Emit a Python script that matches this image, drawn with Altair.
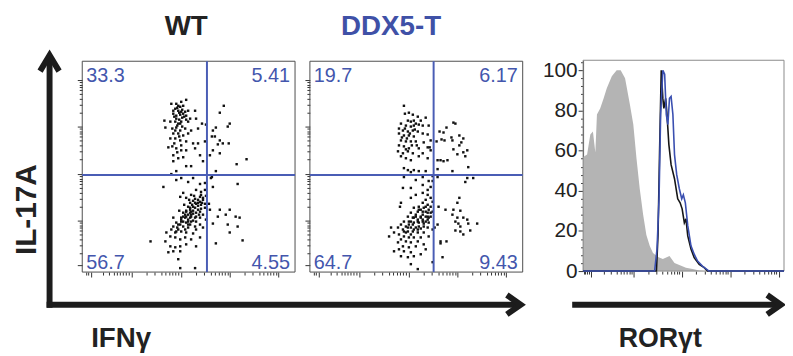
import altair as alt
import pandas as pd

# ---------------- data (panel units: x 0-215, y 0-213) ----------------
wt_ul = [(90,170),(95,170),(100,172),(105,174),(102,168),(99,167),(94,165),(97,163),(100,162),(104,162),
         (107,163),(114,163),(92,160),(95,158),(99,159),(102,160),(105,158),(95,155),(98,154),(101,156),
         (105,154),(109,155),(115,155),(83,153),(89,152),(94,152),(97,150),(100,152),(107,152),(121,150),
         (125,149),(84,146),(91,145),(95,146),(99,143),(104,145),(110,143),(117,145),(92,140),(97,140),
         (102,138),(107,140),(89,135),(94,135),(99,133),(105,132),(112,130),(117,130),(124,132),(87,126),
         (91,127),(95,125),(100,123),(105,123),(114,125),(119,118),(92,118),(97,115),(102,116),(110,107),
         (105,107),(95,102),(92,112),(122,112),(90,99),(96,166),(98,161),(93,157),(101,164),(97,168),
         (103,157),(92,163),(99,150),(96,148),(94,143),(101,147),(98,137),(93,130),(100,128),(96,121)]
wt_ur = [(143,168),(139,161),(149,150),(147,147),(135,146),(132,143),(131,137),(134,137),(139,133),
         (142,130),(137,129),(148,130),(132,123),(129,118),(139,120),(156,109),(166,114),(135,102)]
wt_ll = [(95,93),(100,95),(107,91),(112,95),(119,89),(124,90),(82,86),(115,83),(120,81),(124,83),
         (102,80),(99,76),(105,75),(110,78),(114,74),(119,76),(122,73),(125,77),(117,70),(120,68),
         (124,69),(111,68),(107,66),(114,65),(117,63),(120,64),(110,61),(105,62),(102,60),(107,58),
         (112,59),(115,60),(119,61),(104,55),(109,55),(114,55),(100,51),(105,50),(110,51),(115,51),
         (122,58),(92,55),(97,48),(102,46),(107,45),(114,46),(119,48),(90,43),(95,41),(100,41),
         (105,40),(112,39),(122,45),(85,40),(89,36),(94,35),(99,33),(104,35),(110,33),(119,35),
         (84,31),(89,26),(94,25),(99,26),(105,28),(115,26),(87,20),(92,21),(99,21),(97,13),
         (99,4),(114,4),(69,31),(125,53),(109,65),(112,66),(115,69),(119,71),(122,75),(105,61),
         (109,60),(112,62),(102,56),(105,56),(110,56),(107,53),(99,48),(102,51),(104,43),(109,48),
         (97,43),(115,56),(119,55),(114,70),(109,70),(117,73),(120,78),(107,51),(100,55),(95,50),
         (92,46),(94,40),(115,43),(124,65),(112,72),(117,67),(109,63),(104,58),(100,53),(96,45),
         (107,48),(112,52),(118,58),(121,70),(113,77),(108,73),(103,68),(98,62),(110,58)]
wt_lr = [(132,86),(157,89),(130,95),(128,69),(129,63),(139,63),(149,63),(137,56),(145,58),(155,56),
         (159,55),(132,49),(147,48),(157,46),(149,40),(162,32),(135,29),(131,96)]

ddx_ul = [(95,168),(96,160),(100,161),(104,159),(109,157),(112,153),(117,156),(99,153),(102,152),(105,153),
          (107,150),(110,149),(92,150),(97,148),(102,147),(105,148),(114,148),(120,148),(90,145),(94,143),
          (99,142),(104,143),(109,142),(114,140),(90,140),(95,138),(100,138),(105,137),(119,139),(92,133),
          (97,132),(102,132),(107,132),(115,131),(122,133),(90,128),(95,127),(100,125),(110,125),(119,126),
          (122,123),(89,122),(94,120),(99,122),(104,120),(114,120),(92,117),(97,115),(102,113),(110,117),
          (119,115),(95,105),(99,103),(102,101),(105,103),(110,102),(117,102),(121,126),(96,145),(101,140),
          (98,135),(93,136),(106,144),(103,128),(97,124),(108,128)]
ddx_ur = [(147,150),(145,151),(138,146),(131,142),(135,141),(143,136),(151,138),(155,135),(133,134),
          (136,133),(128,132),(144,133),(153,131),(151,128),(145,124),(159,123),(155,121),(149,119),
          (157,117),(132,113),(135,112),(129,113),(139,113),(144,102),(160,106),(129,104)]
ddx_ll = [(95,96),(114,96),(124,97),(107,93),(120,92),(124,92),(94,85),(102,85),(114,88),(119,83),
          (122,86),(119,78),(122,75),(124,71),(117,73),(114,70),(119,68),(122,66),(110,66),(115,65),
          (120,63),(105,65),(109,61),(114,61),(119,60),(124,61),(102,60),(107,58),(112,56),(117,56),
          (122,56),(99,56),(104,55),(109,53),(114,53),(119,53),(95,51),(100,51),(105,50),(110,50),
          (115,49),(120,50),(92,48),(97,46),(102,45),(107,45),(112,44),(119,45),(89,45),(94,43),
          (99,41),(104,41),(109,40),(115,40),(124,43),(85,40),(90,38),(95,36),(100,35),(105,35),
          (112,35),(120,36),(82,45),(92,33),(97,31),(102,30),(109,31),(89,30),(94,26),(100,25),
          (107,26),(115,28),(90,23),(95,21),(102,20),(85,21),(92,16),(99,15),(105,16),(112,18),
          (117,23),(102,8),(109,3),(124,10),(80,36),(92,70),(91,66),(102,75),(107,78),(114,80),
          (110,63),(114,58),(117,61),(105,55),(109,51),(102,51),(99,45),(105,43),(110,46),(114,51),
          (117,51),(100,48),(95,41),(104,48),(112,55),(107,56),(119,56),(97,40),(102,38),(109,43),
          (115,46),(120,55),(122,60),(117,66),(112,63)]
ddx_lr = [(129,96),(159,95),(165,95),(157,91),(134,15),(130,66),(129,48),(132,31),(138,31),(132,29),
          (126,45),(151,75),(149,70),(145,63),(152,62),(144,58),(149,55),(155,55),(159,53),(147,51),
          (150,49),(152,46),(160,49),(169,49),(147,42),(152,41),(162,42),(155,38),(137,63)]

wt_quad = ["33.3", "5.41", "56.7", "4.55"]     # UL, UR, LL, LR
ddx_quad = ["19.7", "6.17", "64.7", "9.43"]
wt_gate = [126, 98]
ddx_gate = [125, 98]

# RORgt histogram (x: channel 0-1000, y: % of max)
iso_x = [0,3,20,36,49,61,69,85,102,118,143,167,187,209,233,250,266,282,299,315,332,348,373,397,430,455,479,512,545,578,611]
iso_y = [57,57,58,68,69.5,59,78,81,86,91,97,100,100,96,83,73,56,41,28,18,12.5,9,7,6,7.5,4,3,1.7,1,0.3,0]
wt_hx = [0,356,365,373,381,389,397,402,411,417,427,438,455,471,483,493,504,512,521,537,553,578,603,619,1000]
wt_hy = [0,0,0,18,61,100,86,81,86,79,63,53,46,36,34,31,24,26,17.5,11,6.7,3.3,1.7,0,0]
ddx_hx = [0,356,368,378,386,397,406,414,422,430,438,447,455,466,479,491,499,509,521,537,553,570,594,627,1000]
ddx_hy = [0,0,11,36,78,100,98,78,73,86,87,78,58,48,41,36,38,34,22.6,12.6,8.4,5,2.5,0,0]

hist_y_ticks = [0, 20, 40, 60, 80, 100]
hist_y_minor = [4, 8, 12, 16, 24, 28, 32, 36, 44, 48, 52, 56, 64, 68, 72, 76, 84, 88, 92, 96, 104]
hist_x_major = [38, 250, 491, 732, 973]
hist_x_minor = [5, 12, 20, 28, 102, 139, 166, 186, 203, 217, 230, 240, 323, 365, 395, 418, 438, 454, 468, 480,
                564, 606, 636, 659, 679, 695, 709, 721, 805, 847, 877, 900, 920, 936, 950, 962]
sc_x_major = [9, 50, 100, 149, 198]
sc_x_minor = [4, 6, 21, 27, 32, 35, 38, 41, 44, 47, 65, 73, 80, 84, 88, 91, 94, 97, 115, 123, 130, 134, 138, 141,
              144, 147, 164, 172, 179, 183, 187, 190, 193, 196]
sc_y_major = [7, 52, 99, 147, 194]
sc_y_minor = [161, 169, 175, 180, 184, 187, 189, 192, 114, 122, 128, 133, 137, 140, 142, 145, 66, 74, 80, 85,
              89, 92, 94, 97, 19, 27, 33, 38, 42, 45, 47, 50]

# ---------------- style / layout ----------------
FONT = "Liberation Sans"
BLUE_TXT = "#4356ad"
TITLE_BLUE = "#3f51a7"
GATE = "#4a5db5"
INK = "#222222"
TICK = "#333333"
W, H = 793, 356
SC_DX, SC_DY = [0, 215], [0, 213]
SC_RY = [273, 60]
HX_DOM, HY_DOM = [0, 1000], [0, 105]
HX_R, HY_R = [589, 792], [272, 59]


def sc(dom, rng):
    return alt.Scale(domain=dom, range=rng, nice=False, zero=False)


def tick_axis(orient, values, size, offset):
    return alt.Axis(orient=orient, values=values, offset=offset, labels=False, domain=False, grid=False,
                    ticks=True, tickSize=size, tickColor=TICK, tickWidth=1, title=None)


one = pd.DataFrame({"k": [0]})


def scatter_panel(points, quad, gate, xr):
    xs, ys = sc(SC_DX, xr), sc(SC_DY, SC_RY)
    loff, boff = -xr[0], SC_RY[0] - H
    out = []
    g = pd.DataFrame({"gx": [gate[0]], "gy": [gate[1]], "x0": [SC_DX[0]], "x1": [SC_DX[1]],
                      "y0": [SC_DY[0]], "y1": [SC_DY[1]]})
    out.append(alt.Chart(g).mark_rect(fillOpacity=0, stroke="#4d4d4d", strokeWidth=1).encode(
        x=alt.X("x0:Q", scale=xs, axis=tick_axis("bottom", sc_x_major, 5, boff)), x2="x1",
        y=alt.Y("y0:Q", scale=ys, axis=tick_axis("left", sc_y_major, 5, loff)), y2="y1"))
    df = pd.DataFrame(points, columns=["x", "y"])
    out.append(alt.Chart(df).mark_square(size=6, color="#111111", opacity=1).encode(
        x=alt.X("x:Q", scale=xs, axis=None), y=alt.Y("y:Q", scale=ys, axis=None)))
    out.append(alt.Chart(g).mark_rule(color=GATE, strokeWidth=2).encode(
        x=alt.X("gx:Q", scale=xs, axis=tick_axis("bottom", sc_x_minor, 3, boff)),
        y=alt.Y("y0:Q", scale=ys, axis=tick_axis("left", sc_y_minor, 3, loff)), y2="y1"))
    out.append(alt.Chart(g).mark_rule(color=GATE, strokeWidth=2).encode(
        y=alt.Y("gy:Q", scale=ys, axis=None), x=alt.X("x0:Q", scale=xs, axis=None), x2="x1"))
    corners = [(quad[0], SC_DX[0], SC_DY[1], "left", 4, 21),
               (quad[1], SC_DX[1], SC_DY[1], "right", -5, 21),
               (quad[2], SC_DX[0], SC_DY[0], "left", 4, -3),
               (quad[3], SC_DX[1], SC_DY[0], "right", -5, -3)]
    for t, cx, cy, al, dx, dy in corners:
        out.append(alt.Chart(pd.DataFrame({"t": [t], "cx": [cx], "cy": [cy]})).mark_text(
            align=al, baseline="alphabetic", dx=dx, dy=dy, font=FONT, fontSize=20, color=BLUE_TXT).encode(
            x=alt.X("cx:Q", scale=xs, axis=None), y=alt.Y("cy:Q", scale=ys, axis=None), text="t:N"))
    return out


layers = []
layers += scatter_panel(wt_ul + wt_ur + wt_ll + wt_lr, wt_quad, wt_gate, [83, 298])
layers += scatter_panel(ddx_ul + ddx_ur + ddx_ll + ddx_lr, ddx_quad, ddx_gate, [313, 528])

# histogram
hx, hy = sc(HX_DOM, HX_R), sc(HY_DOM, HY_R)
hb = HY_R[0] - H
iso = pd.DataFrame({"x": iso_x, "y": iso_y, "base": [0] * len(iso_x)})
layers.append(alt.Chart(iso).mark_area(color="#b4b4b4", opacity=1).encode(
    x=alt.X("x:Q", scale=hx, axis=tick_axis("bottom", hist_x_minor, 3, hb)),
    y=alt.Y("y:Q", scale=hy, axis=tick_axis("left", hist_y_minor, 2.5, -HX_R[0])), y2="base"))
hframe = pd.DataFrame({"x0": [HX_DOM[0]], "x1": [HX_DOM[1]], "y0": [HY_DOM[0]], "y1": [HY_DOM[1]]})
layers.append(alt.Chart(hframe).mark_rect(fillOpacity=0, stroke="#8a8a8a", strokeWidth=1).encode(
    x=alt.X("x0:Q", scale=hx, axis=tick_axis("bottom", hist_x_major, 6, hb)), x2="x1",
    y=alt.Y("y0:Q", scale=hy, axis=alt.Axis(
        orient="left", offset=-HX_R[0], values=hist_y_ticks, labels=True, labelFont=FONT, labelFontSize=21,
        labelColor=INK, labelPadding=1, tickSize=5, tickColor=TICK, domain=True, domainColor="#444444",
        domainWidth=1, grid=False, title=None)), y2="y1"))
for xs_, ys_, col in [(wt_hx, wt_hy, "#151515"), (ddx_hx, ddx_hy, "#3a4fb0")]:
    layers.append(alt.Chart(pd.DataFrame({"x": xs_, "y": ys_})).mark_line(color=col, strokeWidth=1.6).encode(
        x=alt.X("x:Q", scale=hx, axis=None), y=alt.Y("y:Q", scale=hy, axis=None)))

# big arrows
ARROW = "#1c1c1c"
layers.append(alt.Chart(one).mark_rule(color=ARROW, strokeWidth=6).encode(
    x=alt.value(50), y=alt.value(309), y2=alt.value(57)))
layers.append(alt.Chart(one).mark_rule(color=ARROW, strokeWidth=6).encode(
    x=alt.value(47), x2=alt.value(523), y=alt.value(306)))
layers.append(alt.Chart(one).mark_rule(color=ARROW, strokeWidth=6).encode(
    x=alt.value(578), x2=alt.value(786), y=alt.value(306)))
layers.append(alt.Chart(one).mark_point(shape="M -0.6 1 L 0 0 L 0.6 1", size=1024, filled=False,
                                        strokeWidth=6, color=ARROW, opacity=1).encode(
    x=alt.value(50), y=alt.value(54)))
for tipx in [526, 789]:
    layers.append(alt.Chart(one).mark_point(shape="M -1 -0.7 L 0 0 L -1 0.7", size=784, filled=False,
                                            strokeWidth=6, color=ARROW, opacity=1).encode(
        x=alt.value(tipx), y=alt.value(306)))

# texts
texts = [("WT", 188, 33, "center", 28, INK),
         ("DDX5-T", 395, 33, "center", 28, TITLE_BLUE),
         ("IFNγ", 92, 349, "left", 28, INK),
         ("RORγt", 625, 349, "left", 27, INK)]
for t, x, y, al, fs, col in texts:
    layers.append(alt.Chart(pd.DataFrame({"t": [t]})).mark_text(
        align=al, baseline="alphabetic", font=FONT, fontWeight="bold", fontSize=fs, color=col).encode(
        x=alt.value(x), y=alt.value(y), text="t:N"))
layers.append(alt.Chart(pd.DataFrame({"t": ["IL-17A"]})).mark_text(
    align="center", baseline="alphabetic", angle=270, font=FONT, fontWeight="bold", fontSize=30, color=INK).encode(
    x=alt.value(36), y=alt.value(210), text="t:N"))

chart = alt.layer(*layers).resolve_scale(x="independent", y="independent").resolve_axis(
    x="independent", y="independent").properties(
    width=W, height=H, autosize=alt.AutoSizeParams(type="none"),
    padding={"left": -8, "top": -8, "right": 0, "bottom": 0}).configure_view(strokeWidth=0)

chart.save("out.html", embed_options={"renderer": "svg", "actions": False})
